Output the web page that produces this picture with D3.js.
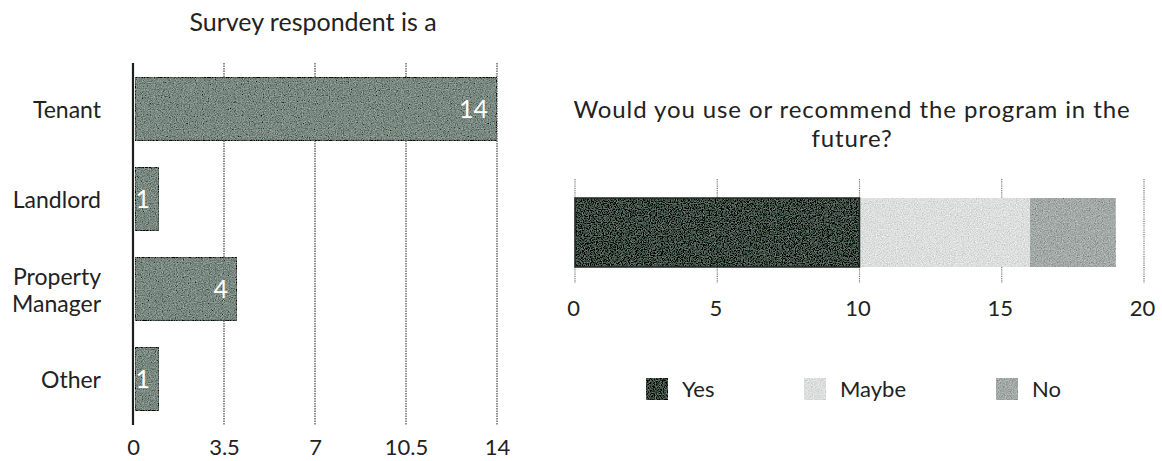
<!DOCTYPE html>
<html>
<head>
<meta charset="utf-8">
<script src="https://cdn.jsdelivr.net/npm/d3@7/dist/d3.min.js"></script>
<style>
  html, body { margin: 0; padding: 0; background: #fff; }
  svg { display: block; font-family: Lato, "Open Sans", sans-serif; }
  .tick text { fill: #222; }
</style>
</head>
<body>
<svg id="chart" width="1162" height="461"></svg>
<script>
// Left panel: who answered the survey
const respondentTypes = ["Tenant", "Landlord", "Property Manager", "Other"];
const respondentCounts = [14, 1, 4, 1];
const respondentTicks = [0, 3.5, 7, 10.5, 14];

// Right panel: would they use / recommend the program
const answerLabels = ["Yes", "Maybe", "No"];
const answerCounts = [10, 6, 3];
const answerTicks = [0, 5, 10, 15, 20];

const svg = d3.select("#chart");
const defs = svg.append("defs");

// Grainy fill so the bars read like a printed halftone
const grain = defs.append("filter").attr("id", "grain")
  .attr("x", 0).attr("y", 0).attr("width", 1).attr("height", 1);
grain.append("feTurbulence").attr("type", "fractalNoise")
  .attr("baseFrequency", 0.85).attr("numOctaves", 2).attr("seed", 7).attr("result", "noise");
grain.append("feColorMatrix").attr("in", "noise").attr("type", "matrix")
  .attr("values", "0.33 0.33 0.33 0 0  0.33 0.33 0.33 0 0  0.33 0.33 0.33 0 0  0 0 0 0 1")
  .attr("result", "grey");
grain.append("feComposite").attr("in", "SourceGraphic").attr("in2", "grey")
  .attr("operator", "arithmetic").attr("k1", 0).attr("k2", 1).attr("k3", 1.0).attr("k4", -0.5)
  .attr("result", "mixed");
grain.append("feComposite").attr("in", "mixed").attr("in2", "SourceAlpha").attr("operator", "in");

const textColor = "#222";

// ---------- Left: horizontal bar chart ----------
const left = { x0: 133, x1: 497, y0: 63, y1: 425 };

const xL = d3.scaleLinear().domain([0, 14]).range([left.x0, left.x1]);
const yL = d3.scaleBand().domain(respondentTypes).range([left.y0 + 1, left.y1 - 1])
  .paddingInner(0.3).paddingOuter(0.15);

svg.append("text")
  .attr("x", 313).attr("y", 31)
  .attr("text-anchor", "middle")
  .attr("font-size", 25).attr("fill", textColor)
  .text("Survey respondent is a");

// dotted vertical gridlines
svg.append("g").selectAll("line")
  .data(respondentTicks.filter(t => t > 0))
  .join("line")
  .attr("x1", d => xL(d)).attr("x2", d => xL(d))
  .attr("y1", left.y0).attr("y2", left.y1)
  .attr("stroke", "#555").attr("stroke-width", 1.3)
  .attr("stroke-dasharray", "1.5,1");

const leftBars = svg.append("g");
leftBars.selectAll("rect")
  .data(respondentTypes)
  .join("rect")
  .attr("x", xL(0) + 2)
  .attr("y", d => yL(d))
  .attr("width", (d, i) => xL(respondentCounts[i]) - xL(0) - 2)
  .attr("height", yL.bandwidth())
  .attr("fill", "#7b8981")
  .attr("stroke", "#3c4640").attr("stroke-width", 1.2)
  .attr("filter", "url(#grain)");

leftBars.selectAll("text")
  .data(respondentTypes)
  .join("text")
  .attr("x", (d, i) => xL(respondentCounts[i]) - 9)
  .attr("y", d => yL(d) + yL.bandwidth() / 2)
  .attr("dy", "0.36em")
  .attr("text-anchor", "end")
  .attr("font-size", 25).attr("fill", "#fff")
  .text((d, i) => respondentCounts[i]);

// baseline axis
svg.append("line")
  .attr("x1", xL(0)).attr("x2", xL(0))
  .attr("y1", left.y0).attr("y2", left.y1)
  .attr("stroke", "#1e1e1e").attr("stroke-width", 2.2);

// category labels, long names wrapped onto two lines
const yAxisL = svg.append("g")
  .attr("transform", `translate(${left.x0 - 32},2)`)
  .call(d3.axisLeft(yL).tickSize(0).tickPadding(0));
yAxisL.select(".domain").remove();
yAxisL.selectAll(".tick text")
  .attr("font-size", 23).attr("font-family", "Lato")
  .each(function(d) {
    const words = d.split(" ");
    if (words.length < 2) return;
    const t = d3.select(this).text(null);
    words.forEach((w, i) => {
      t.append("tspan").attr("x", 0)
        .attr("dy", i === 0 ? "-0.28em" : "1.2em")
        .text(w);
    });
  });

const xAxisL = svg.append("g")
  .attr("transform", `translate(0,${left.y1 + 11})`)
  .call(d3.axisBottom(xL).tickValues(respondentTicks).tickSize(0).tickPadding(0)
    .tickFormat(d3.format("")));
xAxisL.select(".domain").remove();
xAxisL.selectAll(".tick text")
  .attr("font-size", 22).attr("font-family", "Lato").attr("dy", "0.85em");

// ---------- Right: single stacked bar ----------
const right = { x0: 575, x1: 1144, y0: 179, y1: 283, barTop: 198, barBottom: 267 };
const xR = d3.scaleLinear().domain([0, 20]).range([right.x0, right.x1]);
const colorR = d3.scaleOrdinal().domain(answerLabels).range(["#3d4b42", "#dcdfdd", "#a4aaa7"]);

const title = svg.append("text")
  .attr("text-anchor", "middle")
  .attr("font-size", 24).attr("letter-spacing", 0.9).attr("fill", textColor);
title.append("tspan").attr("x", 852).attr("y", 118)
  .text("Would you use or recommend the program in the");
title.append("tspan").attr("x", 852).attr("y", 147)
  .text("future?");

svg.append("g").selectAll("line")
  .data(answerTicks)
  .join("line")
  .attr("x1", d => xR(d)).attr("x2", d => xR(d))
  .attr("y1", right.y0).attr("y2", right.y1)
  .attr("stroke", "#777").attr("stroke-width", 1.2)
  .attr("stroke-dasharray", "1.2,1");

const starts = d3.cumsum([0].concat(answerCounts.slice(0, -1)));
svg.append("g").selectAll("rect")
  .data(answerLabels)
  .join("rect")
  .attr("x", (d, i) => xR(starts[i]))
  .attr("y", right.barTop)
  .attr("width", (d, i) => xR(starts[i] + answerCounts[i]) - xR(starts[i]))
  .attr("height", right.barBottom - right.barTop)
  .attr("fill", d => colorR(d))
  .attr("filter", "url(#grain)");

// dark outline around the "Yes" segment
svg.append("rect")
  .attr("x", xR(0)).attr("y", right.barTop)
  .attr("width", xR(answerCounts[0]) - xR(0))
  .attr("height", right.barBottom - right.barTop)
  .attr("fill", "none").attr("stroke", "#1f2823").attr("stroke-width", 1.5);

const xAxisR = svg.append("g")
  .attr("transform", `translate(-2,${right.y1 + 14})`)
  .call(d3.axisBottom(xR).tickValues(answerTicks).tickSize(0).tickPadding(0));
xAxisR.select(".domain").remove();
xAxisR.selectAll(".tick text")
  .attr("font-size", 22).attr("font-family", "Lato").attr("dy", "0.85em");

// legend
const legendX = [646, 804, 996];
const legend = svg.append("g").selectAll("g")
  .data(answerLabels)
  .join("g")
  .attr("transform", (d, i) => `translate(${legendX[i]},378)`);
legend.append("rect")
  .attr("width", 22).attr("height", 22)
  .attr("fill", d => colorR(d))
  .attr("filter", "url(#grain)");
legend.append("text")
  .attr("x", 36).attr("y", 11).attr("dy", "0.36em")
  .attr("font-size", 22).attr("fill", textColor)
  .text(d => d);
</script>
</body>
</html>
